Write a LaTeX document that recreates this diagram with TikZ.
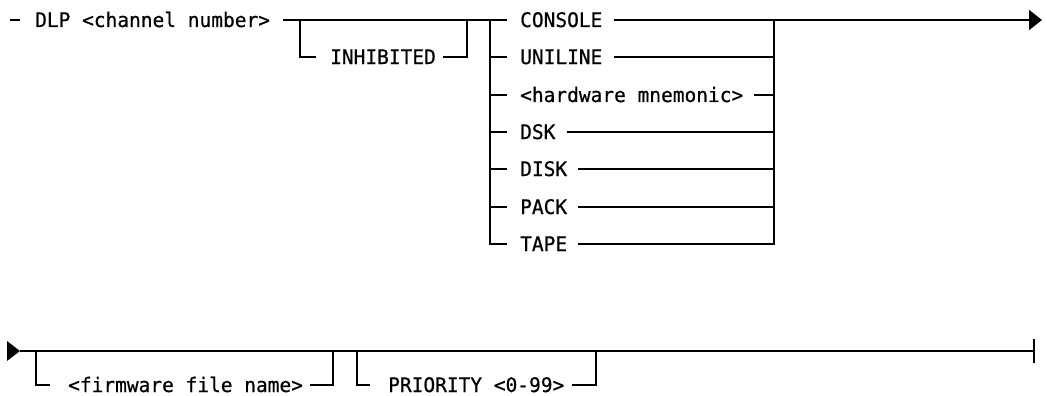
\documentclass[tikz,border=0pt]{standalone}
\usepackage{fontspec}
\newfontfamily\railfont[FakeBold=0.6,FakeStretch=0.975]{DejaVu Sans Mono}
\usetikzlibrary{arrows.meta,calc}
\begin{document}
\begin{tikzpicture}[x=1pt,y=-1pt,
  rail/.style={line width=1.7pt},
  lbl/.style={anchor=base west, inner sep=0pt, font=\railfont\fontsize{20}{21}\selectfont}]
\fill[white] (0,0) rectangle (1047,396);
\useasboundingbox (0,0) rectangle (1047,396);
% ---------- top line ----------
\coordinate (s0) at (10,20);
\coordinate (s1) at (20,20);
\coordinate (a) at (283,20);
\coordinate (b) at (300,20);
\coordinate (c) at (467,20);
\coordinate (d) at (490,20);
\coordinate (e) at (774,20);
\coordinate (f) at (1042,20);
\node[lbl] (dlp) at (35,27) {DLP <channel number>};
\node[lbl] (inh) at (330,64) {INHIBITED};
\node[lbl] (console) at (520,27) {CONSOLE};
\node[lbl] (uniline) at (520,64) {UNILINE};
\node[lbl] (hw) at (520,102) {<hardware mnemonic>};
\node[lbl] (dsk) at (520,139) {DSK};
\node[lbl] (disk) at (520,176) {DISK};
\node[lbl] (pack) at (520,214) {PACK};
\node[lbl] (tape) at (520,251) {TAPE};
\foreach \n/\y in {2/57,3/95,4/132,5/169,6/207}{
  \coordinate (L\n) at (490,\y);
  \coordinate (R\n) at (774,\y);
}
\draw[rail] (s0) -- (s1);
\draw[rail] (a) -- ($(console.base west)+(-13,-7)$);
\draw[rail,-{Triangle[length=13pt,width=20pt]}] ($(console.base east)+(11,-7)$) -- (f);
% INHIBITED
\draw[rail] (b) |- ($(inh.base west)+(-14,-7)$);
\draw[rail] ($(inh.base east)+(7,-7)$) -| (c);
% choice
\draw[rail] (d) |- ($(tape.base west)+(-13,-7)$);
\draw[rail] ($(tape.base east)+(11,-7)$) -| (e);
\foreach \n/\m in {2/uniline,3/hw,4/dsk,5/disk,6/pack}{
  \draw[rail] (L\n) -- ($(\m.base west)+(-13,-7)$);
  \draw[rail] ($(\m.base east)+(11,-7)$) -- (R\n);
}
% ---------- bottom line ----------
\coordinate (g0) at (20,351);
\coordinate (g1) at (1034,351);
\coordinate (h1) at (36,351);
\coordinate (h2) at (333,351);
\coordinate (p1) at (357,351);
\coordinate (p2) at (596,351);
\coordinate (bt) at (1034,339);
\coordinate (bb) at (1034,363);
\node[lbl] (fw) at (68,392) {<firmware file name>};
\node[lbl] (prio) at (388,392) {PRIORITY <0-99>};
\fill (7,341) -- (g0) -- (7,361) -- cycle;
\draw[rail] (g0) -- (g1);
\draw[rail] (bt) -- (bb);
\draw[rail] (h1) |- ($(fw.base west)+(-18,-7)$);
\draw[rail] ($(fw.base east)+(7,-7)$) -| (h2);
\draw[rail] (p1) |- ($(prio.base west)+(-18,-7)$);
\draw[rail] ($(prio.base east)+(7,-7)$) -| (p2);
\end{tikzpicture}
\end{document}
